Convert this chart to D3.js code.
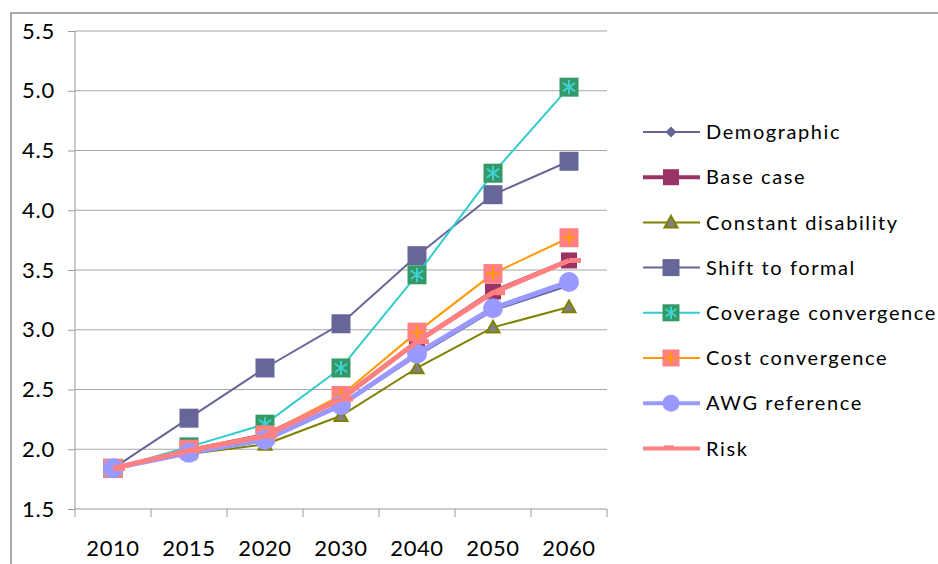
<!DOCTYPE html>
<html><head><meta charset="utf-8">
<script src="https://cdn.jsdelivr.net/npm/d3@7"></script>
<style>
body{margin:0;background:#fff;}
svg{display:block;}
text{font-family:Lato,"Open Sans",sans-serif;fill:#000;}
</style></head>
<body><svg id="c" width="938" height="564"></svg>
<script>
const years = ["2010","2015","2020","2030","2040","2050","2060"];
const yTicks = [1.5,2.0,2.5,3.0,3.5,4.0,4.5,5.0,5.5];
const seriesNames = ["Demographic","Base case","Constant disability","Shift to formal","Coverage convergence","Cost convergence","AWG reference","Risk"];
const demographic = [1.84,1.97,2.07,2.36,2.78,3.16,3.37];
const baseCase = [1.84,1.99,2.12,2.42,2.90,3.32,3.58];
const constantDisability = [1.84,1.96,2.04,2.28,2.68,3.02,3.19];
const shiftToFormal = [1.84,2.26,2.68,3.05,3.62,4.13,4.41];
const coverageConvergence = [1.84,2.02,2.21,2.68,3.46,4.31,5.03];
const costConvergence = [1.84,2.00,2.12,2.45,2.98,3.47,3.77];
const awgReference = [1.84,1.97,2.08,2.37,2.80,3.18,3.40];
const risk = [1.84,1.99,2.11,2.42,2.90,3.31,3.58];

const data = [demographic,baseCase,constantDisability,shiftToFormal,coverageConvergence,costConvergence,awgReference,risk];
const styles = [
  {line:"#666699",lw:2,marker:"diamond",fill:"#666699",size:11},
  {line:"#993366",lw:4,marker:"square",fill:"#993366",size:16},
  {line:"#808000",lw:2,marker:"triangle",fill:"#808080",size:13},
  {line:"#666699",lw:2,marker:"square",fill:"#666699",size:19},
  {line:"#33CCCC",lw:2,marker:"star",fill:"#339966",size:19},
  {line:"#FF9900",lw:2,marker:"plus",fill:"#FF8080",size:19},
  {line:"#9999FF",lw:5,marker:"circle",fill:"#9999FF",size:20},
  {line:"#FF8080",lw:5,marker:"dash",fill:"#FF8080",size:12}
];

const svg = d3.select("#c");
svg.append("rect").attr("x",11).attr("y",13).attr("width",1000).attr("height",600)
  .attr("fill","none").attr("stroke","#8c8c8c").attr("stroke-width",1.5);

const x = d3.scaleBand().domain(years).range([75,607]).padding(0);
const y = d3.scaleLinear().domain([1.5,5.5]).range([509,31]);
const cx = d => x(d)+x.bandwidth()/2;

// gridlines
svg.append("g").selectAll("line").data(yTicks.slice(1)).join("line")
  .attr("x1",75).attr("x2",607).attr("y1",d=>y(d)).attr("y2",d=>y(d))
  .attr("stroke","#a6a6a6").attr("stroke-width",1);

// y axis
const ya = svg.append("g").attr("transform","translate(75,0)")
  .call(d3.axisLeft(y).tickValues(yTicks).tickFormat(d3.format(".1f")).tickSize(7).tickPadding(13));
ya.select(".domain").attr("stroke","#999").attr("d","M0,"+y(5.5)+"V"+y(1.5));
ya.selectAll(".tick line").attr("stroke","#999");
ya.selectAll("text").attr("font-size",22).attr("fill","#000").attr("font-family","Lato, 'Open Sans', sans-serif").attr("letter-spacing","0.8px");

// x axis
const xa = svg.append("g").attr("transform","translate(0,509)")
  .call(d3.axisBottom(x).tickSize(0).tickPadding(31));
xa.select(".domain").attr("stroke","#999").attr("d","M75,0H607");
xa.selectAll("text").attr("font-size",22).attr("fill","#000").attr("font-family","Lato, 'Open Sans', sans-serif").attr("letter-spacing","0.6px");
const xt = [...years.map(d=>x(d)), 607];
svg.append("g").selectAll("line").data(xt).join("line")
  .attr("x1",d=>d).attr("x2",d=>d).attr("y1",509).attr("y2",517).attr("stroke","#999");

function drawMarker(g, px, py, st){
  const s = st.size, h = s/2;
  if(st.marker==="square"){
    g.append("rect").attr("x",px-h).attr("y",py-h).attr("width",s).attr("height",s).attr("fill",st.fill);
  } else if(st.marker==="diamond"){
    g.append("path").attr("d",`M${px},${py-h}L${px+h},${py}L${px},${py+h}L${px-h},${py}Z`).attr("fill",st.fill);
  } else if(st.marker==="triangle"){
    g.append("path").attr("d",`M${px},${py-h}L${px+h},${py+h*0.8}L${px-h},${py+h*0.8}Z`)
      .attr("fill",st.fill).attr("stroke",st.line).attr("stroke-width",2);
  } else if(st.marker==="circle"){
    g.append("circle").attr("cx",px).attr("cy",py).attr("r",h).attr("fill",st.fill);
  } else if(st.marker==="star"){
    g.append("rect").attr("x",px-h).attr("y",py-h).attr("width",s).attr("height",s).attr("fill",st.fill);
    const r = h*0.75;
    g.append("path").attr("d",`M${px},${py-r}V${py+r}M${px-r*0.85},${py-r*0.6}L${px+r*0.85},${py+r*0.6}M${px-r*0.85},${py+r*0.6}L${px+r*0.85},${py-r*0.6}`)
      .attr("stroke","#40D0D0").attr("stroke-width",2).attr("fill","none");
  } else if(st.marker==="plus"){
    g.append("rect").attr("x",px-h).attr("y",py-h).attr("width",s).attr("height",s).attr("fill",st.fill);
    const r = h*0.7;
    g.append("path").attr("d",`M${px},${py-r}V${py+r}M${px-r},${py}H${px+r}`)
      .attr("stroke",st.line).attr("stroke-width",2).attr("fill","none");
  } else if(st.marker==="dash"){
    g.append("rect").attr("x",px).attr("y",py-2.5).attr("width",s).attr("height",5).attr("fill",st.fill);
  }
}

const line = d3.line().x((d,i)=>cx(years[i])).y(d=>y(d));
data.forEach((vals,k)=>{
  const st = styles[k];
  const g = svg.append("g");
  g.append("path").datum(vals).attr("d",line).attr("fill","none")
    .attr("stroke",st.line).attr("stroke-width",st.lw).attr("stroke-linejoin","round");
  vals.forEach((v,i)=>drawMarker(g, cx(years[i]), y(v), st));
});

// legend
const lg = svg.append("g");
seriesNames.forEach((name,k)=>{
  const st = styles[k];
  const ly = 132 + k*45.2;
  const g = lg.append("g");
  g.append("line").attr("x1",643).attr("x2",700).attr("y1",ly).attr("y2",ly)
    .attr("stroke",st.line).attr("stroke-width",Math.min(st.lw,4));
  const lst = Object.assign({},st,{size: st.marker==="dash"? 0 : Math.min(st.size,17)});
  if(st.marker==="dash"){
    g.append("rect").attr("x",664).attr("y",ly-3).attr("width",10).attr("height",2).attr("fill",st.fill);
  } else drawMarker(g, 671, ly, lst);
  g.append("text").attr("x",706).attr("y",ly).attr("dy","0.36em")
    .attr("font-size",20).attr("letter-spacing","1.6px").text(name);
});
</script></body></html>
